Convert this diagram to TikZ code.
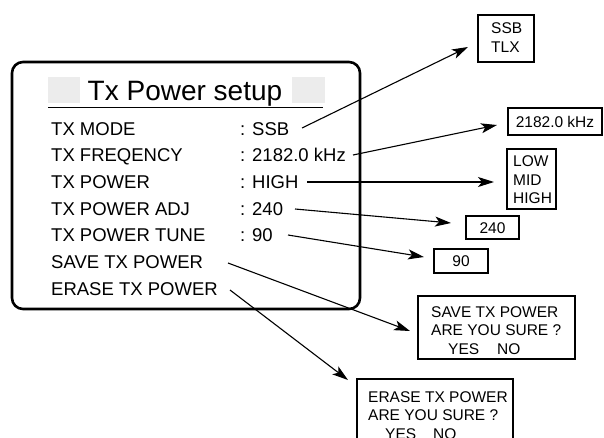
\documentclass[tikz,border=0pt]{standalone}
\usepackage{fontspec}
\setmainfont{Liberation Sans}
\usetikzlibrary{arrows.meta}
\begin{document}
\begin{tikzpicture}[x=1pt,y=-1pt,
  lbl/.style={anchor=base west,inner sep=0pt,font=\fontsize{18.5}{22}\selectfont},
  sml/.style={anchor=base west,inner sep=0pt,font=\fontsize{15.5}{18}\selectfont},
  smc/.style={anchor=base,inner sep=0pt,font=\fontsize{15.5}{18}\selectfont},
  obox/.style={draw,line width=1.1pt},
  arr/.style={line width=1.1pt,-{Stealth[length=16pt,width=10pt,inset=4pt]}}]
\useasboundingbox (0,0) rectangle (604,437);
\clip (0,0) rectangle (604,437);
% main panel
\draw[line width=2.6pt,rounded corners=11pt] (12,62) rectangle (360,309);
\fill[gray!15] (48,77) rectangle (80,103);
\fill[gray!15] (292,77) rectangle (325,103);
\node[anchor=base,inner sep=0pt,font=\fontsize{28}{32}\selectfont] (title) at (185,100) {Tx Power setup};
\draw[line width=0.9pt] (48,107) -- (323,107);
% rows
\node[lbl] (l1) at (51,135) {TX MODE};
\node[lbl] (l2) at (51,161.7) {TX FREQENCY};
\node[lbl] (l3) at (51,188.3) {TX POWER};
\node[lbl] (l4) at (51,215) {TX POWER ADJ};
\node[lbl] (l5) at (51,241.7) {TX POWER TUNE};
\node[lbl] (l6) at (51,268.3) {SAVE TX POWER};
\node[lbl] (l7) at (51,295) {ERASE TX POWER};
\node[lbl] (v1) at (240,135) {: SSB};
\node[lbl] (v2) at (240,161.7) {: 2182.0 kHz};
\node[lbl] (v3) at (240,188.3) {: HIGH};
\node[lbl] (v4) at (240,215) {: 240};
\node[lbl] (v5) at (240,241.7) {: 90};
% right boxes
\draw[obox] (478,15) rectangle (534,62);
\node[sml] (b1a) at (491,33) {SSB};
\node[sml] (b1b) at (491,52) {TLX};
\draw[obox] (508,108) rectangle (602,135);
\node[smc] (b2) at (555,127) {2182.0 kHz};
\draw[obox] (507,149) rectangle (556,209);
\node[sml] (b3a) at (513,166) {LOW};
\node[sml] (b3b) at (513,185) {MID};
\node[sml] (b3c) at (513,203) {HIGH};
\draw[obox] (466,216) rectangle (519,239);
\node[smc] (b4) at (492.5,233) {240};
\draw[obox] (434,249) rectangle (488,273);
\node[smc] (b5) at (461,266.5) {90};
\draw[obox] (418,296) rectangle (575,359);
\node[sml] (b6a) at (431,317) {SAVE TX POWER};
\node[sml] (b6b) at (431,335.5) {ARE YOU SURE ?};
\node[sml] (b6c) at (448,354) {YES};
\node[sml] (b6d) at (497,354) {NO};
\draw[obox] (357,379) rectangle (513,460);
\node[sml] (b7a) at (368,402) {ERASE TX POWER};
\node[sml] (b7b) at (368,420.5) {ARE YOU SURE ?};
\node[sml] (b7c) at (385,439) {YES};
\node[sml] (b7d) at (433,439) {NO};
% arrow endpoints
\coordinate (s1) at (302,128); \coordinate (e1) at (468,47);
\coordinate (s2) at (353,155); \coordinate (e2) at (497,125);
\coordinate (s3) at (307,182); \coordinate (e3) at (494,182);
\coordinate (s4) at (295,209); \coordinate (e4) at (451,223);
\coordinate (s5) at (288,235); \coordinate (e5) at (424,257);
\coordinate (s6) at (228,263); \coordinate (e6) at (410,331);
\coordinate (s7) at (230,290); \coordinate (e7) at (348,380);
\foreach \i in {1,...,7} {\draw[arr] (s\i) -- (e\i);}
\end{tikzpicture}
\end{document}
